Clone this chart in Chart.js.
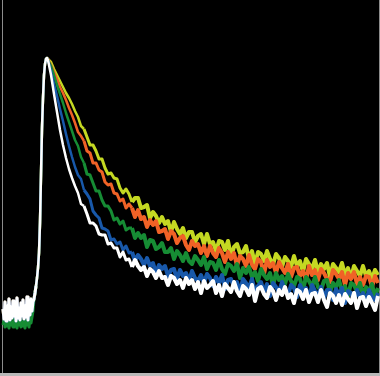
<!DOCTYPE html>
<html>
<head>
<meta charset="utf-8">
<script src="https://cdn.jsdelivr.net/npm/chart.js@4"></script>
<style>
html,body{margin:0;padding:0;background:#000;}
#c{display:block;position:absolute;left:0;top:0;}
</style>
</head>
<body>
<canvas id="c" width="380" height="376"></canvas>
<script>
// Channel numbers (time axis) for the baseline + rising edge, shared by all series
const riseChannels = [3,4,5,6,7,8,9,10,11,12,13,14,15,16,17,18,19,20,21,22,23,24,25,26,27,28,29,30,31,32,33,34,35,36,37,38,39,40,41,42,43,44,45,46,47];
// Counts on the baseline + rising edge (white trace, also under blue/orange/yellow)
const riseCounts = [64,54,71,52,67,56,74,53,66,55,72,57,68,52,75,55,65,53,70,57,73,54,67,56,76,53,69,58,74,62,71,
  74,80,87,95,105,120,150,198,245,275,298,309,314,315];
// Green trace baseline sits slightly lower
const riseCountsGreen = [48,53,46,55,47,52,45,54,48,51,46,55,47,53,45,52,48,55,46,51,47,54,45,52,48,53,46,55,50,56,62,
  74,80,87,95,105,120,150,198,245,275,298,309,314,315];

// Channel numbers for the decay part
const decayChannels = [48,51,54,57,60,63,66,69,72,75,78,81,84,87,90,93,96,99,102,105,108,111,114,117,120,123,126,129,132,135,138,141,144,147,150,153,156,159,162,165,168,171,174,177,180,183,186,189,192,195,198,201,204,207,210,213,216,219,222,225,228,231,234,237,240,243,246,249,252,255,258,261,264,267,270,273,276,279,282,285,288,291,294,297,300,303,306,309,312,315,318,321,324,327,330,333,336,339,342,345,348,351,354,357,360,363,366,369,372,375,378];

const decayWhite = [313,298,279,261,243,228,215,204,195,187,
180,169,167,159,150,150,147,139,138,138,129,130,125,125,116,
121,113,114,106,113,107,103,106,97,104,101,95,102,95,96,88,97,95,89,93,85,95,89,93,84,91,80,
92,85,88,92,80,88,77,89,85,81,91,82,77,87,84,78,88,72,84,86,79,75,86,82,73,83,78,86,75,79,70,83,81,74,83,71,79,80,71,83,73,66,80,77,70,78,68,79,74,70,80,65,75,76,67,76,70,63,77];

const decayBlue = [313,302,289,277,264,252,239,227,216,206,
198,194,183,179,174,162,158,155,145,144,142,133,134,129,131,
123,127,120,121,112,118,114,108,115,107,110,100,108,104,107,97,103,104,94,103,97,100,92,102,95,92,98,
90,99,95,87,96,90,98,84,93,94,86,91,81,94,90,85,94,81,87,91,81,89,77,90,86,81,91,82,78,88,85,76,88,82,85,74,88,82,77,86,75,83,83,73,84,78,85,70,82,80,73,83,75,80,71,83,76,73,80];

const decayGreen = [313,307,298,288,279,270,260,251,242,233,
227,216,210,199,198,190,182,182,173,167,167,162,153,155,149,
152,143,145,145,135,140,135,138,126,133,132,124,126,130,121,121,125,114,122,118,112,120,112,109,117,113,108,
116,104,111,110,103,113,104,99,109,107,102,109,95,105,100,106,96,101,92,104,98,94,100,87,100,93,97,89,99,92,87,96,94,83,96,92,86,96,86,83,92,93,81,90,86,93,82,87,77,90,88,81,90,78,86,82,89,76,85];

const decayOrange = [314,308,301,294,286,280,273,265,258,250,
241,237,232,222,220,210,210,203,201,191,188,189,180,179,172,
174,165,169,165,156,163,154,156,146,153,148,152,141,142,144,134,142,139,130,135,137,128,123,132,127,129,120,
127,117,127,120,116,125,120,111,121,114,120,107,117,114,107,118,108,104,114,111,99,113,106,110,100,111,105,100,109,96,105,106,97,102,93,107,98,103,93,104,100,94,91,103,99,94,101,88,100,94,101,89,96,88,97,96,86,97,90];

const decayYellow = [314,311,304,298,292,286,280,275,269,262,
256,247,244,236,228,228,222,214,214,205,199,200,195,194,185,
180,184,179,171,175,175,165,166,168,155,161,157,150,156,149,152,141,151,144,139,145,135,141,141,131,137,139,
129,139,129,131,122,132,131,123,132,117,126,129,120,121,127,114,122,109,121,119,112,122,114,108,119,115,106,116,112,106,117,107,112,101,114,109,104,113,101,109,104,110,96,109,105,101,110,98,105,95,107,102,97,107,97,102,94,103,98];

const allChannels = riseChannels.concat(decayChannels);
function pts(rise, decay) {
  const ys = rise.concat(decay);
  return allChannels.map((x, i) => ({x: x, y: ys[i]}));
}

const series = [
  {name: 'white',  color: '#ffffff',         data: pts(riseCounts, decayWhite)},
  {name: 'blue',   color: 'rgb(24,88,170)',  data: pts(riseCounts, decayBlue)},
  {name: 'green',  color: 'rgb(22,140,52)',  data: pts(riseCountsGreen, decayGreen)},
  {name: 'orange', color: 'rgb(240,98,38)',  data: pts(riseCounts, decayOrange)},
  {name: 'yellow', color: 'rgb(196,216,34)', data: pts(riseCounts, decayYellow)}
];

const frame = {
  id: 'frame',
  beforeDraw(chart) {
    const ctx = chart.ctx, w = chart.width, h = chart.height;
    ctx.save();
    ctx.fillStyle = '#000';
    ctx.fillRect(0, 0, w, h);
    ctx.fillStyle = '#8c8c8c';
    ctx.fillRect(2, 0, 1, h - 2);
    ctx.fillRect(w - 1, 0, 1, h - 2);
    ctx.fillStyle = '#b8b8b8';
    ctx.fillRect(0, h - 3, w, 3);
    ctx.restore();
  }
};

function segWidth(ctx) {
  const x = ctx.p0.parsed.x;
  if (x < 36) return 3;
  if (x < 84) return 2.5;
  if (x < 130) return 3;
  return 4;
}

new Chart(document.getElementById('c'), {
  type: 'line',
  data: {
    datasets: series.map(s => ({
      label: s.name,
      data: s.data,
      borderColor: s.color,
      backgroundColor: s.color,
      borderWidth: 2.5,
      pointRadius: 0,
      tension: 0,
      fill: false,
      borderJoinStyle: 'round',
      segment: {borderWidth: segWidth}
    }))
  },
  options: {
    responsive: false,
    animation: false,
    devicePixelRatio: 1,
    layout: {padding: 0},
    plugins: {legend: {display: false}, tooltip: {enabled: false}, title: {display: false}},
    scales: {
      x: {type: 'linear', min: 0, max: 380, display: false},
      y: {type: 'linear', min: -3, max: 373, display: false}
    }
  },
  plugins: [frame]
});
</script>
</body>
</html>
